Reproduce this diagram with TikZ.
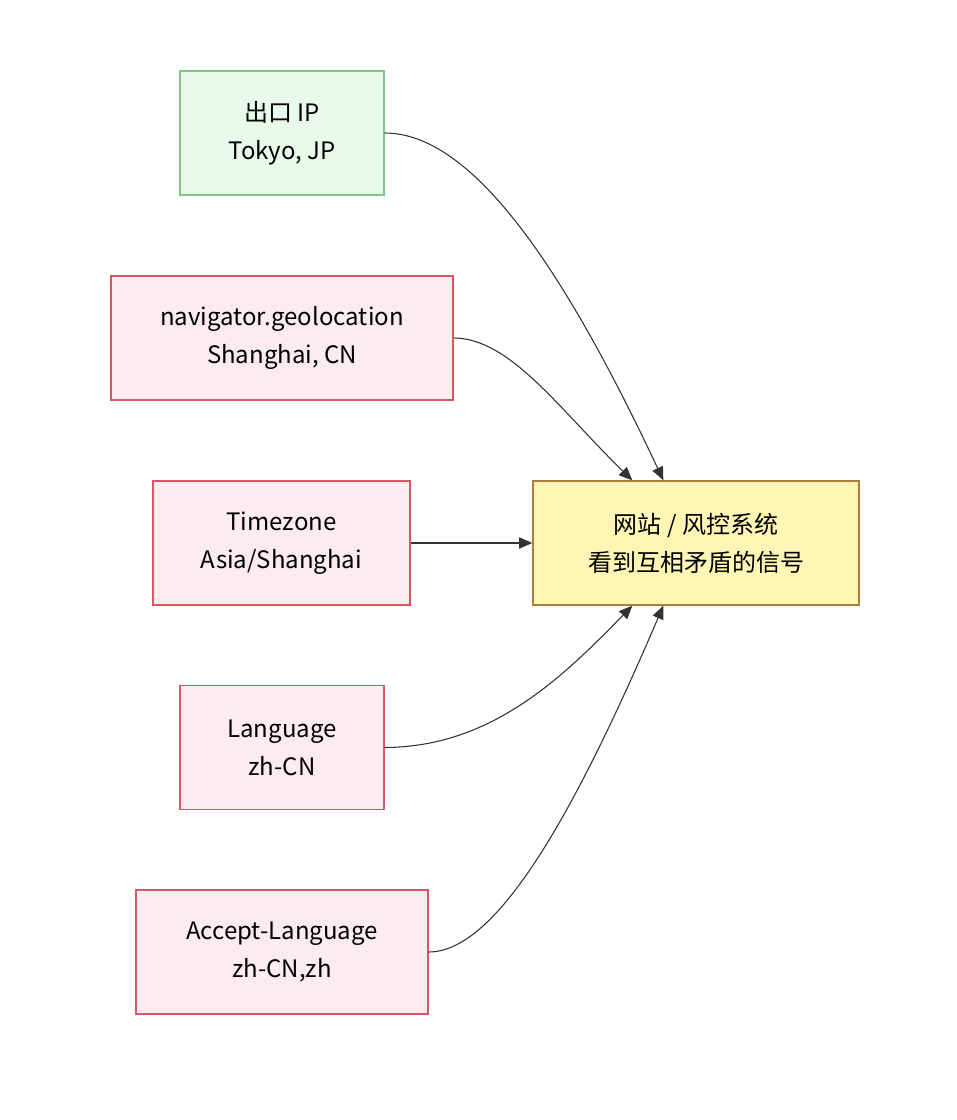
\documentclass[tikz,border=0pt]{standalone}
\usepackage{fontspec}
\setmainfont{Noto Sans CJK SC}
\usetikzlibrary{arrows.meta}
\usetikzlibrary{calc}
\definecolor{okfill}{RGB}{232,251,234}
\definecolor{okline}{RGB}{130,197,133}
\definecolor{badfill}{RGB}{252,236,239}
\definecolor{badline}{RGB}{214,88,100}
\definecolor{sitefill}{RGB}{255,245,181}
\definecolor{siteline}{RGB}{170,128,58}
\definecolor{wire}{RGB}{51,51,51}

\begin{document}
\begin{tikzpicture}[x=0.75pt,y=-0.75pt,
    box/.style={draw,line width=1pt,align=center,minimum height=93pt,inner sep=0pt,
        font=\fontsize{18}{28.5}\selectfont},
    okbox/.style={box,fill=okfill,draw=okline},
    badbox/.style={box,fill=badfill,draw=badline},
    sitebox/.style={box,fill=sitefill,draw=siteline},
    wire/.style={draw=wire,line width=0.8pt,-{Triangle[length=10pt,width=8.5pt]}}]
\useasboundingbox (0,0) rectangle (956,1120);

\edef\lx{282} 

\node[okbox, minimum width=153pt] (ip) at (\lx,133) {出口 IP\\Tokyo, JP};
\node[badbox, minimum width=256.5pt] (geo) at (\lx,338) {navigator.geolocation\\Shanghai, CN};
\node[badbox, minimum width=192.75pt] (tz) at (281.5,543) {Timezone\\Asia/Shanghai};
\node[badbox, minimum width=153pt] (lang) at (\lx,747.5) {Language\\zh-CN};
\node[badbox, minimum width=219pt] (accept) at (\lx,952) {Accept-Language\\zh-CN,zh};

\node[sitebox, minimum width=244.5pt] (site) at (696,543) {网站 / 风控系统\\看到互相矛盾的信号};

\coordinate (topA) at ($(site.north west)+(100,0)$);
\coordinate (topB) at ($(site.north west)+(131,0)$);
\coordinate (botA) at ($(site.south west)+(100,0)$);
\coordinate (botB) at ($(site.south west)+(131,0)$);

% signals going into the site
\draw[wire] (ip.east) .. controls (470,133) and (560,260) .. (topB);
\draw[wire] (geo.east) .. controls (510,338) and (560,410) .. (topA);
\draw[wire] (tz.east) -- (site.west);
\draw[wire] (lang.east) .. controls (490,747) and (560,680) .. (botA);
\draw[wire] (accept.east) .. controls (500,952) and (580,800) .. (botB);
\end{tikzpicture}
\end{document}
